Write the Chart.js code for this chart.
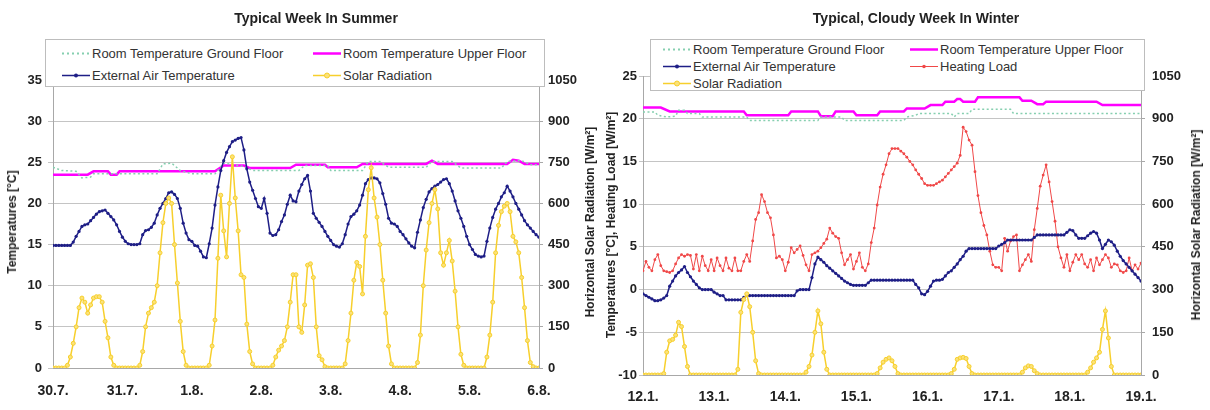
<!DOCTYPE html>
<html>
<head>
<meta charset="utf-8">
<title>Typical weeks in summer and winter</title>
<script src="https://cdn.jsdelivr.net/npm/chart.js@4.4.1/dist/chart.umd.min.js"></script>
<style>
  body { margin: 0; background: #fff; font-family: 'Liberation Sans', Arial, sans-serif; }
  #wrap { position: relative; width: 1210px; height: 410px; overflow: hidden; background: #fff; }
  canvas { position: absolute; top: 0; }
  .title { position: absolute; font-weight: bold; font-size: 14px; color: #222; transform: translate(-50%, -50%); white-space: nowrap; }
  .axis-title { position: absolute; font-weight: bold; font-size: 12px; color: #222; white-space: nowrap; transform: translate(-50%, -50%) rotate(-90deg); }
  .legend { position: absolute; background: #fff; border: 1px solid #bdbdbd; box-sizing: border-box; }
  .item { position: absolute; font-size: 13px; color: #333; white-space: nowrap; transform: translateY(-50%); display: flex; align-items: center; }
  .item svg { margin-right: 2px; }
</style>
</head>
<body>
<div id="wrap">
  <canvas id="summer" width="605" height="410" style="left:0"></canvas>
  <canvas id="winter" width="605" height="410" style="left:605px"></canvas>

  <div class="title" style="left:316px; top:18px">Typical Week In Summer</div>
  <div class="title" style="left:916px; top:18px">Typical, Cloudy Week In Winter</div>

  <div class="axis-title" style="left:12px; top:222px">Temperatures [°C]</div>
  <div class="axis-title" style="left:590px; top:222px">Horizontal Solar Radiation [W/m²]</div>
  <div class="axis-title" style="left:611px; top:225px">Temperatures [°C], Heating Load [W/m²]</div>
  <div class="axis-title" style="left:1196px; top:225px">Horizontal Solar Radiation [W/m²]</div>

  <div class="legend" style="left:45px; top:39px; width:500px; height:48px">
    <div class="item" style="left:16px; top:13px"><svg width="28" height="10"><line x1="0" y1="5" x2="28" y2="5" stroke="#86cfb0" stroke-width="2" stroke-dasharray="2,3"/></svg>Room Temperature Ground Floor</div>
    <div class="item" style="left:267px; top:13px"><svg width="28" height="10"><line x1="0" y1="5" x2="28" y2="5" stroke="#ff00ff" stroke-width="2.5"/></svg>Room Temperature Upper Floor</div>
    <div class="item" style="left:16px; top:35px"><svg width="28" height="10"><line x1="0" y1="5" x2="28" y2="5" stroke="#1e1e86" stroke-width="1.5"/><circle cx="14" cy="5" r="2" fill="#1e1e86"/></svg>External Air Temperature</div>
    <div class="item" style="left:267px; top:35px"><svg width="28" height="10"><line x1="0" y1="5" x2="28" y2="5" stroke="#f7cf2c" stroke-width="1.5"/><circle cx="14" cy="5" r="2.5" fill="#fbe27a" stroke="#f7cf2c"/></svg>Solar Radiation</div>
  </div>

  <div class="legend" style="left:650px; top:39px; width:495px; height:52px">
    <div class="item" style="left:12px; top:9px"><svg width="28" height="10"><line x1="0" y1="5" x2="28" y2="5" stroke="#86cfb0" stroke-width="2" stroke-dasharray="2,3"/></svg>Room Temperature Ground Floor</div>
    <div class="item" style="left:259px; top:9px"><svg width="28" height="10"><line x1="0" y1="5" x2="28" y2="5" stroke="#ff00ff" stroke-width="2.5"/></svg>Room Temperature Upper Floor</div>
    <div class="item" style="left:12px; top:26px"><svg width="28" height="10"><line x1="0" y1="5" x2="28" y2="5" stroke="#1e1e86" stroke-width="1.5"/><circle cx="14" cy="5" r="2" fill="#1e1e86"/></svg>External Air Temperature</div>
    <div class="item" style="left:259px; top:26px"><svg width="28" height="10"><line x1="0" y1="5" x2="28" y2="5" stroke="#f04848" stroke-width="1"/><circle cx="14" cy="5" r="1.8" fill="#f04848"/></svg>Heating Load</div>
    <div class="item" style="left:12px; top:43px"><svg width="28" height="10"><line x1="0" y1="5" x2="28" y2="5" stroke="#f7cf2c" stroke-width="1.5"/><circle cx="14" cy="5" r="2.5" fill="#fbe27a" stroke="#f7cf2c"/></svg>Solar Radiation</div>
  </div>
</div>

<script>
// x axis runs in hours from the first midnight, one tick per day
const summerDays = ['30.7.', '31.7.', '1.8.', '2.8.', '3.8.', '4.8.', '5.8.', '6.8.'];
const winterDays = ['12.1.', '13.1.', '14.1.', '15.1.', '16.1.', '17.1.', '18.1.', '19.1.'];

// Summer: hourly values, hour 0 .. 168
const summerExtTemp = [
  14.9, 14.9, 14.9, 14.9, 14.9, 14.9, 14.9, 15.3, 16.0, 16.6, 17.2, 17.4, 17.5, 17.9, 18.3, 18.7, 19.0, 19.1, 19.2, 18.8, 18.4, 18.0, 17.4, 16.6,
  15.9, 15.4, 15.1, 15.0, 15.0, 15.0, 15.1, 16.2, 16.7, 16.8, 17.1, 17.6, 18.6, 19.4, 20.0, 20.6, 21.3, 21.4, 21.1, 20.6, 19.4, 17.6, 16.4, 15.6,
  15.4, 14.9, 14.8, 14.2, 13.5, 13.4, 15.1, 17.0, 19.8, 22.0, 24.0, 25.2, 26.2, 26.9, 27.5, 27.7, 27.9, 28.0, 26.5, 24.2, 22.6, 21.6, 20.6, 19.6,
  19.4, 20.6, 18.8, 16.4, 16.1, 16.2, 16.8, 17.8, 18.6, 19.9, 21.0, 20.3, 20.2, 21.5, 22.3, 23.0, 23.4, 21.5, 18.8, 18.2, 17.7, 17.2, 16.6, 16.0,
  15.5, 15.0, 14.8, 14.7, 15.1, 16.2, 17.5, 18.4, 18.7, 19.1, 19.8, 21.0, 22.4, 22.9, 23.1, 23.1, 23.0, 22.5, 21.2, 19.9, 18.2, 17.6, 17.5, 17.2,
  16.6, 16.2, 15.7, 15.2, 14.8, 14.6, 16.5, 18.0, 19.5, 20.5, 21.4, 21.8, 22.1, 22.3, 22.6, 22.9, 23.0, 22.4, 21.5, 20.3, 19.1, 18.2, 17.2, 16.0,
  15.0, 14.4, 13.8, 13.6, 13.5, 13.6, 15.4, 17.0, 18.3, 19.3, 20.0, 20.8, 21.3, 22.1, 21.5, 20.8, 20.0, 19.3, 18.6, 17.9, 17.4, 17.0, 16.6, 16.2, 15.9
];
const summerSolar = [
  0, 0, 0, 0, 0, 10, 40, 90, 150, 220, 255, 240, 200, 230, 255, 260, 260, 240, 170, 110, 40, 10, 0, 0,
  0, 0, 0, 0, 0, 0, 10, 60, 150, 200, 220, 240, 300, 420, 530, 600, 620, 600, 450, 310, 170, 60, 10, 0,
  0, 0, 0, 0, 0, 0, 10, 80, 175, 400, 630, 500, 405, 600, 770, 620, 500, 340, 330, 160, 60, 15, 0, 0,
  0, 0, 0, 0, 10, 40, 65, 80, 100, 150, 240, 340, 340, 150, 130, 230, 375, 380, 330, 150, 45, 30, 5, 0,
  0, 0, 0, 0, 0, 15, 100, 200, 320, 385, 370, 270, 480, 650, 730, 620, 550, 450, 320, 200, 80, 15, 0, 0,
  0, 0, 0, 0, 0, 0, 20, 120, 300, 430, 530, 600, 650, 580, 420, 375, 420, 465, 390, 280, 150, 50, 10, 0,
  0, 0, 0, 0, 0, 0, 40, 120, 240, 420, 520, 570, 590, 600, 570, 480, 460, 420, 330, 220, 100, 20, 5, 0, 0
];
const summerUpperHours = [0, 12, 14, 19, 20, 22, 23, 56, 59, 66, 68, 82, 84, 94, 95, 105, 107, 129, 131, 133, 157, 159, 161, 163, 168];
const summerUpperTemp = [23.5, 23.5, 23.9, 23.9, 23.5, 23.5, 23.9, 23.9, 24.6, 24.6, 24.3, 24.3, 24.7, 24.7, 24.4, 24.4, 24.8, 24.8, 25.2, 24.8, 24.8, 25.3, 25.2, 24.8, 24.8];
const summerGroundHours = [0, 3, 8, 10, 13, 14, 36, 38, 41, 44, 48, 56, 59, 66, 69, 85, 87, 95, 96, 107, 109, 113, 116, 129, 131, 138, 141, 155, 157, 162, 165, 168];
const summerGroundTemp = [24.4, 24.0, 23.9, 23.1, 23.2, 23.6, 23.6, 24.8, 24.9, 24.0, 23.6, 23.6, 24.9, 24.5, 24.0, 24.0, 24.6, 24.6, 24.0, 24.0, 25.1, 25.1, 24.4, 24.4, 25.1, 25.1, 24.3, 24.3, 25.1, 25.2, 24.7, 24.7];

// Winter: hourly values, hour 0 .. 168
const winterExtTemp = [
  -0.5, -0.7, -0.9, -1.1, -1.3, -1.3, -1.2, -1.0, -0.7, 0.4, 1.0, 1.6, 2.0, 2.3, 2.7, 2.0, 1.5, 1.0, 0.6, 0.2, 0, 0, 0, 0,
  -0.3, -0.5, -0.7, -0.7, -1.2, -1.2, -1.2, -1.2, -1.2, -1.2, -0.9, -0.7, -0.7, -0.7, -0.7, -0.7, -0.7, -0.7, -0.7, -0.7, -0.7, -0.7, -0.7, -0.7,
  -0.7, -0.7, -0.7, -0.7, -0.15, 0, 0, 0, 0, 1.4, 3.0, 3.8, 3.5, 3.2, 2.8, 2.5, 2.2, 1.9, 1.6, 1.3, 1.0, 0.8, 0.6, 0.5,
  0.5, 0.5, 0.5, 0.5, 0.8, 1.1, 1.1, 1.1, 1.1, 1.1, 1.1, 1.1, 1.1, 1.1, 1.1, 1.1, 1.1, 1.1, 1.1, 1.1, 0.6, 0.2, -0.5, -0.6,
  -0.2, 0.4, 1.0, 1.1, 1.1, 1.2, 1.6, 2.0, 2.2, 2.6, 3.0, 3.5, 3.9, 4.5, 4.8, 4.8, 4.8, 4.8, 4.8, 4.8, 4.8, 4.8, 4.8, 4.8,
  5.1, 5.3, 5.5, 5.8, 5.8, 5.8, 5.8, 5.8, 5.8, 5.8, 5.8, 5.8, 6.1, 6.4, 6.4, 6.4, 6.4, 6.4, 6.4, 6.4, 6.4, 6.4, 6.4, 6.7,
  7.0, 6.9, 6.4, 6.0, 6.0, 6.0, 6.3, 6.6, 6.8, 6.6, 5.8, 4.8, 5.3, 5.8, 5.6, 5.2, 4.5, 3.9, 3.4, 3.0, 2.6, 2.2, 1.8, 1.4, 1.0
];
const winterHeating = [
  2.2, 3.3, 2.6, 2.2, 3.5, 4.1, 2.8, 2.2, 2.1, 2.0, 2.2, 3.0, 3.7, 4.1, 3.9, 4.1, 4.0, 2.4, 4.1, 2.2, 3.9, 2.8, 2.2, 3.5,
  2.2, 3.7, 2.8, 2.2, 3.7, 2.5, 2.2, 3.7, 2.2, 2.2, 3.3, 4.1, 3.3, 5.7, 8.2, 9.0, 11.1, 10.3, 9.0, 8.4, 6.4, 3.7, 3.9, 3.5,
  2.2, 3.2, 4.9, 4.3, 4.7, 5.1, 4.0, 2.9, 2.2, 4.1, 4.3, 4.5, 4.9, 5.4, 5.9, 7.2, 6.6, 6.2, 6.0, 4.3, 2.9, 3.5, 4.1, 2.4,
  3.3, 4.3, 2.6, 2.2, 3.0, 5.5, 7.2, 9.9, 12.0, 13.5, 14.6, 15.9, 16.5, 16.5, 16.5, 16.2, 15.9, 15.5, 15.0, 14.6, 14.0, 13.5, 13.0, 12.4,
  12.2, 12.2, 12.2, 12.4, 12.6, 12.8, 13.2, 13.6, 14.0, 14.4, 14.8, 15.7, 19.0, 18.5, 17.5, 16.9, 13.8, 11.0, 9.0, 7.5, 6.4, 4.5, 2.9, 2.6,
  2.6, 2.2, 6.0, 4.5, 5.7, 6.2, 6.4, 2.2, 2.9, 3.5, 4.1, 3.3, 7.0, 9.5, 12.1, 13.4, 14.6, 12.6, 10.3, 8.0, 5.0, 3.7, 2.6, 4.1,
  2.2, 3.2, 4.1, 3.5, 4.1, 3.0, 2.6, 3.5, 2.2, 3.7, 2.9, 3.5, 4.1, 3.7, 2.6, 3.0, 2.9, 2.2, 2.0, 2.2, 3.7, 2.2, 2.9, 2.4, 3.1
];
const winterSolar = [
  0, 0, 0, 0, 0, 0, 0, 5, 80, 120, 125, 140, 185, 170, 100, 30, 0, 0, 0, 0, 0, 0, 0, 0,
  0, 0, 0, 0, 0, 0, 0, 0, 20, 220, 265, 285, 240, 150, 50, 5, 0, 0, 0, 0, 0, 0, 0, 0,
  0, 0, 0, 0, 0, 0, 0, 10, 30, 70, 150, 225, 180, 80, 20, 0, 0, 0, 0, 0, 0, 0, 0, 0,
  0, 0, 0, 0, 0, 0, 0, 5, 25, 45, 55, 60, 50, 30, 5, 0, 0, 0, 0, 0, 0, 0, 0, 0,
  0, 0, 0, 0, 0, 0, 0, 0, 5, 20, 55, 60, 62, 58, 30, 5, 0, 0, 0, 0, 0, 0, 0, 0,
  0, 0, 0, 0, 0, 0, 0, 0, 10, 25, 32, 30, 15, 5, 0, 0, 0, 0, 0, 0, 0, 0, 0, 0,
  0, 0, 0, 0, 0, 0, 10, 25, 45, 60, 80, 160, 225, 130, 30, 0, 0, 0, 0, 0, 0, 0, 0, 0, 0
];
const winterUpperHours = [0, 6, 9, 34, 35, 49, 50, 59, 60, 64, 65, 71, 72, 79, 80, 88, 89, 95, 97, 101, 102, 105, 106, 107, 108, 112, 113, 127, 128, 131, 133, 135, 136, 153, 155, 168];
const winterUpperTemp = [21.3, 21.3, 20.85, 20.85, 20.4, 20.4, 20.85, 20.85, 20.3, 20.3, 20.85, 20.85, 20.4, 20.4, 20.85, 20.85, 21.2, 21.2, 21.6, 21.6, 22.0, 22.0, 22.3, 22.3, 22.0, 22.0, 22.5, 22.5, 22.1, 22.1, 21.7, 21.7, 22.0, 22.0, 21.6, 21.6];
const winterGroundHours = [0, 4, 5, 8, 11, 12, 14, 15, 19, 20, 35, 36, 59, 60, 67, 68, 88, 89, 92, 93, 104, 105, 106, 110, 111, 124, 125, 168];
const winterGroundTemp = [20.8, 20.8, 20.4, 20.2, 20.3, 21.0, 21.0, 20.6, 20.6, 20.2, 20.2, 19.8, 19.8, 20.2, 20.2, 19.8, 19.8, 20.2, 20.4, 20.6, 20.6, 20.2, 20.6, 20.6, 21.1, 21.1, 20.6, 20.6];

const FONT = "'Liberation Sans', Arial, sans-serif";

function hourly(values) {
    return values.map((v, i) => ({ x: i, y: v }));
}

function steps(hours, values) {
    return hours.map((h, i) => ({ x: h, y: values[i] }));
}

function groundSet(hours, temps) {
    return {
        label: 'Room Temperature Ground Floor', data: steps(hours, temps), yAxisID: 'yT',
        borderColor: '#86cfb0', borderWidth: 1.5, borderDash: [2, 2.5], pointRadius: 0, order: 3
    };
}

function upperSet(hours, temps) {
    return {
        label: 'Room Temperature Upper Floor', data: steps(hours, temps), yAxisID: 'yT',
        borderColor: '#ff00ff', borderWidth: 2.5, pointRadius: 0, order: 4
    };
}

function extSet(values) {
    return {
        label: 'External Air Temperature', data: hourly(values), yAxisID: 'yT',
        borderColor: '#1e1e86', backgroundColor: '#1e1e86', borderWidth: 1.5,
        pointRadius: 1.6, pointBorderWidth: 0, order: 1
    };
}

function solarSet(values) {
    return {
        label: 'Solar Radiation', data: hourly(values), yAxisID: 'yS',
        borderColor: '#f7cf2c', backgroundColor: '#fbe27a', borderWidth: 1.5,
        pointRadius: 2, pointBorderWidth: 1, order: 0
    };
}

function makeChart(id, days, datasets, cfg) {
    const tickFont = { family: FONT, size: 13, weight: 'bold' };
    return new Chart(document.getElementById(id), {
        type: 'line',
        data: { datasets: datasets },
        options: {
            responsive: false,
            animation: false,
            events: [],
            layout: { padding: { left: 0, right: 0, top: cfg.top, bottom: cfg.padBottom } },
            plugins: { legend: { display: false }, tooltip: { enabled: false } },
            scales: {
                x: {
                    type: 'linear', min: 0, max: 168,
                    ticks: {
                        stepSize: 24, autoSkip: false, maxRotation: 0,
                        padding: cfg.xPad, color: '#222',
                        font: { family: FONT, size: 14, weight: 'bold' },
                        callback: (v) => days[Math.round(v / 24)]
                    },
                    grid: { display: false, drawTicks: false },
                    border: { display: true, color: '#a8a8a8' },
                    afterFit: (s) => { s.height = cfg.xHeight; }
                },
                yT: {
                    position: 'left', min: cfg.tMin, max: cfg.tMax,
                    ticks: { stepSize: 5, padding: cfg.leftPad, color: '#222', font: tickFont, callback: (v) => String(v) },
                    grid: { color: '#c4c4c4', tickLength: cfg.leftTick },
                    border: { color: '#a8a8a8' },
                    afterFit: (s) => { s.width = cfg.leftW; }
                },
                yS: {
                    position: 'right', min: 0, max: 1050,
                    ticks: { stepSize: 150, padding: cfg.rightPad, color: '#222', font: tickFont, callback: (v) => String(v) },
                    grid: { drawOnChartArea: false, color: '#a8a8a8', tickLength: 4 },
                    border: { color: '#a8a8a8' },
                    afterFit: (s) => { s.width = cfg.rightW; }
                }
            }
        }
    });
}

makeChart('summer', summerDays, [
    groundSet(summerGroundHours, summerGroundTemp),
    upperSet(summerUpperHours, summerUpperTemp),
    extSet(summerExtTemp),
    solarSet(summerSolar)
], { top: 80, padBottom: 12, xHeight: 30, xPad: 15, tMin: 0, tMax: 35, leftW: 53, leftTick: 5, leftPad: 6, rightW: 66, rightPad: 5 });

makeChart('winter', winterDays, [
    groundSet(winterGroundHours, winterGroundTemp),
    upperSet(winterUpperHours, winterUpperTemp),
    extSet(winterExtTemp),
    {
        label: 'Heating Load', data: hourly(winterHeating), yAxisID: 'yT',
        borderColor: '#f04848', backgroundColor: '#f04848', borderWidth: 1,
        pointRadius: 1.4, pointBorderWidth: 0, order: 2
    },
    solarSet(winterSolar)
], { top: 76, padBottom: 5, xHeight: 30, xPad: 14, tMin: -10, tMax: 25, leftW: 38, leftTick: 4, leftPad: 2, rightW: 69, rightPad: 7 });
</script>
</body>
</html>
